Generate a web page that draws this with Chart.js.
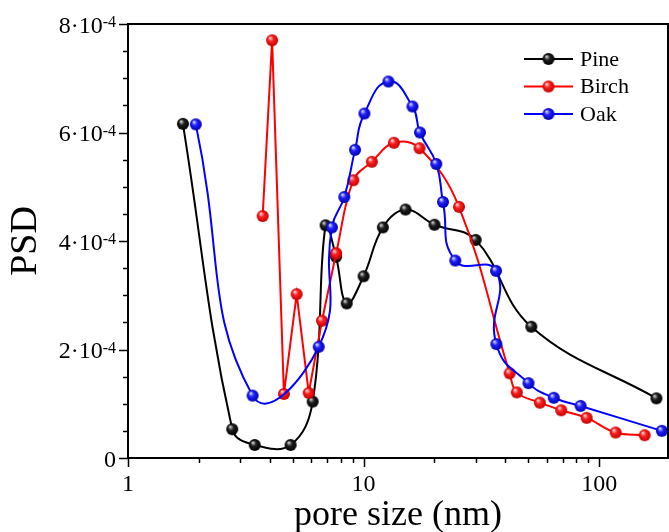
<!DOCTYPE html>
<html>
<head>
<meta charset="utf-8">
<script src="https://cdn.jsdelivr.net/npm/chart.js@4.4.1/dist/chart.umd.min.js"></script>
<style>
  html, body { margin: 0; padding: 0; background: #fff; overflow: hidden; }
  #wrap { width: 669px; height: 532px; position: relative; }
</style>
</head>
<body>
<div id="wrap"><canvas id="psdChart"></canvas></div>
<script>
// pore size (nm) and PSD
var pineX = [1.71, 2.77, 3.45, 4.90, 6.08, 6.90, 7.64, 8.48, 10.0, 12.07, 15.07, 20.0, 29.9, 51.5, 175];
var pineY = [6.16e-4, 0.53e-4, 0.24e-4, 0.24e-4, 1.04e-4, 4.29e-4, 3.71e-4, 2.85e-4, 3.35e-4, 4.25e-4, 4.58e-4, 4.30e-4, 4.02e-4, 2.42e-4, 1.10e-4];

var birchX = [3.73, 4.09, 4.59, 5.20, 5.85, 6.66, 7.64, 9.05, 10.84, 13.45, 17.28, 25.4, 41.7, 44.7, 56.0, 69.0, 88.5, 117.5, 156];
var birchY = [4.46e-4, 7.70e-4, 1.18e-4, 3.02e-4, 1.20e-4, 2.53e-4, 3.77e-4, 5.12e-4, 5.46e-4, 5.81e-4, 5.71e-4, 4.63e-4, 1.56e-4, 1.21e-4, 1.02e-4, 0.88e-4, 0.74e-4, 0.47e-4, 0.42e-4];
var birchStraight = 7; // first points joined by straight segments

var oakX = [1.94, 3.38, 6.45, 7.34, 8.28, 9.2, 10.08, 12.75, 16.13, 17.35, 20.35, 21.73, 24.5, 36.5, 36.6, 50.1, 64.2, 83.4, 184.5];
var oakY = [6.15e-4, 1.15e-4, 2.05e-4, 4.25e-4, 4.81e-4, 5.68e-4, 6.35e-4, 6.94e-4, 6.48e-4, 6.00e-4, 5.42e-4, 4.72e-4, 3.64e-4, 3.45e-4, 2.10e-4, 1.38e-4, 1.11e-4, 0.96e-4, 0.50e-4];

var seriesNames = ['Pine', 'Birch', 'Oak'];
var seriesColors = ['#000000', '#ff0000', '#0000ff'];
var xTickLabels = [1, 10, 100];
var yTickLabels = [0, 2e-4, 4e-4, 6e-4, 8e-4];

var serif = '"Liberation Serif", "Times New Roman", serif';

function pts(xs, ys) {
    return xs.map(function (v, i) { return { x: v, y: ys[i] }; });
}

function ball(color, dark, light) {
    var r = 6, s = 2 * r + 2;
    var c = document.createElement('canvas');
    c.width = s; c.height = s;
    var g = c.getContext('2d');
    var grad = g.createRadialGradient(s / 2 - 2, s / 2 - 2.5, 0.5, s / 2, s / 2, r);
    grad.addColorStop(0, light);
    grad.addColorStop(0.4, color);
    grad.addColorStop(1, dark);
    g.fillStyle = grad;
    g.beginPath();
    g.arc(s / 2, s / 2, r, 0, Math.PI * 2);
    g.fill();
    return c;
}

var balls = [
    ball('#202020', '#000000', '#c8c8c8'),
    ball('#ff2020', '#c00000', '#ffd0d0'),
    ball('#2020ff', '#0000b0', '#d0d0ff')
];

function lineSet(label, data, i, tension) {
    return {
        label: label,
        data: data,
        borderColor: seriesColors[i],
        borderWidth: 2,
        tension: tension,
        pointStyle: balls[i],
        pointRadius: 6,
        fill: false
    };
}

var axesDeco = {
    id: 'axesDeco',
    afterDraw: function (chart) {
        var ctx = chart.ctx, a = chart.chartArea;
        var x = chart.scales.x, y = chart.scales.y;
        ctx.save();
        ctx.strokeStyle = '#000';
        ctx.lineWidth = 2;
        ctx.strokeRect(a.left, a.top, a.right - a.left, a.bottom - a.top);

        ctx.lineWidth = 1.5;
        ctx.beginPath();
        for (var e = 0; e <= 2; e++) {
            for (var m = 1; m <= 9; m++) {
                var v = m * Math.pow(10, e);
                if (v > x.max) break;
                var px = Math.round(x.getPixelForValue(v)) + 0.5;
                ctx.moveTo(px, a.bottom);
                ctx.lineTo(px, a.bottom + (m === 1 ? 9 : 5));
            }
        }
        y.ticks.forEach(function (t) {
            var py = Math.round(y.getPixelForValue(t.value)) + 0.5;
            var major = yTickLabels.some(function (l) { return Math.abs(l - t.value) < 1e-9; });
            ctx.moveTo(a.left - (major ? 9 : 5), py);
            ctx.lineTo(a.left, py);
        });
        ctx.stroke();

        // y tick labels with superscript exponent
        ctx.fillStyle = '#000';
        ctx.textAlign = 'right';
        ctx.textBaseline = 'alphabetic';
        yTickLabels.forEach(function (v) {
            var py = y.getPixelForValue(v);
            var right = a.left - 12;
            if (v === 0) {
                ctx.font = '24px ' + serif;
                ctx.fillText('0', right, py + 8.5);
                return;
            }
            ctx.font = '16px ' + serif;
            var sup = '-4';
            var w = ctx.measureText(sup).width;
            ctx.fillText(sup, right, py + 3);
            ctx.font = '24px ' + serif;
            ctx.fillText(Math.round(v / 1e-4) + '\u00b710', right - w, py + 8.5);
        });

        // legend
        var lx = a.right - 144, ly = a.top + 35;
        ctx.font = '22px ' + serif;
        ctx.textAlign = 'left';
        ctx.textBaseline = 'middle';
        seriesNames.forEach(function (name, i) {
            var yy = ly + i * 27.5;
            ctx.strokeStyle = seriesColors[i];
            ctx.lineWidth = 2;
            ctx.beginPath();
            ctx.moveTo(lx, yy);
            ctx.lineTo(lx + 49, yy);
            ctx.stroke();
            ctx.drawImage(balls[i], lx + 24.5 - balls[i].width / 2, yy - balls[i].height / 2);
            ctx.fillStyle = '#000';
            ctx.fillText(name, lx + 56, yy + 1);
        });
        ctx.restore();
    }
};

var myChart = new Chart(document.getElementById('psdChart'), {
    type: 'line',
    data: {
        datasets: [
            lineSet(seriesNames[2], pts(oakX, oakY), 2, 0.5),
            lineSet(seriesNames[1], pts(birchX.slice(0, birchStraight), birchY.slice(0, birchStraight)), 1, 0),
            lineSet(seriesNames[1], pts(birchX.slice(birchStraight - 1), birchY.slice(birchStraight - 1)), 1, 0.4),
            lineSet(seriesNames[0], pts(pineX, pineY), 0, 0.4)
        ]
    },
    options: {
        responsive: true,
        maintainAspectRatio: false,
        animation: false,
        layout: { autoPadding: false, padding: { top: 24, right: 1, left: 0, bottom: 0 } },
        plugins: { legend: { display: false }, tooltip: { enabled: false } },
        scales: {
            x: {
                type: 'logarithmic',
                min: 1,
                max: 196,
                grid: { display: false, drawTicks: false },
                border: { display: false },
                ticks: {
                    autoSkip: false,
                    maxRotation: 0,
                    padding: 12,
                    color: '#000',
                    font: { family: serif, size: 24 },
                    callback: function (v) {
                        return xTickLabels.indexOf(v) >= 0 ? String(v) : '';
                    }
                },
                title: {
                    display: true,
                    text: 'pore size (nm)',
                    color: '#000',
                    font: { family: serif, size: 36, lineHeight: 0.9 },
                    padding: { top: 0, bottom: 0 }
                },
                afterFit: function (s) {
                    s.height = 74;
                    s.paddingLeft = 0;
                    s.paddingRight = 0;
                }
            },
            y: {
                min: 0,
                max: 8e-4,
                grid: { display: false, drawTicks: false },
                border: { display: false },
                ticks: { display: false, stepSize: 0.5e-4 },
                title: {
                    display: true,
                    text: 'PSD',
                    color: '#000',
                    font: { family: serif, size: 38 },
                    padding: { top: 3, bottom: 0 }
                },
                afterFit: function (s) {
                    s.width = 128;
                    s.paddingTop = 0;
                    s.paddingBottom = 0;
                }
            }
        }
    },
    plugins: [axesDeco]
});
</script>
</body>
</html>
